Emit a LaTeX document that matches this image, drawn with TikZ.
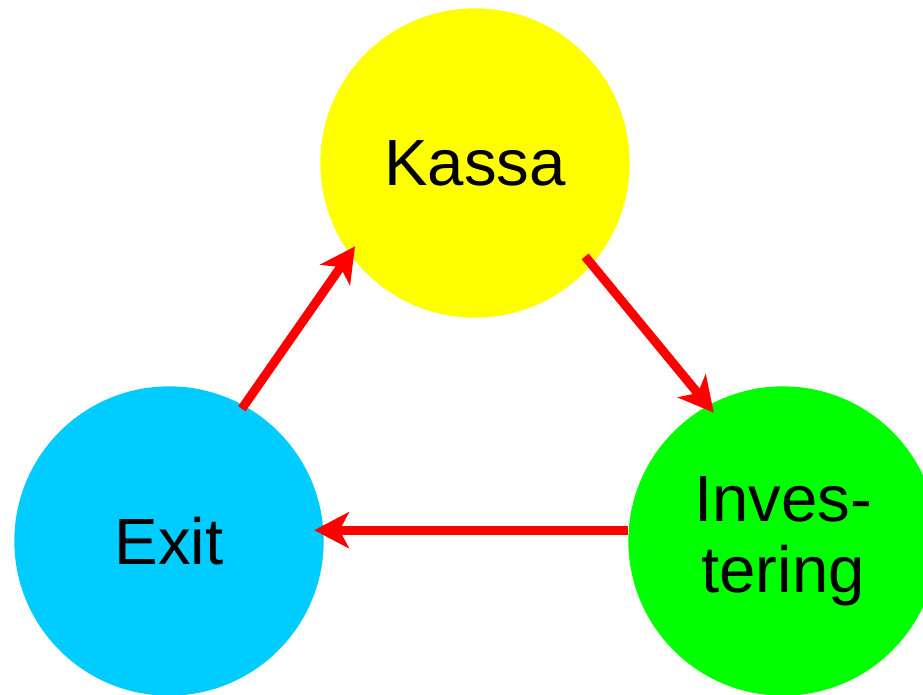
\documentclass[tikz,border=0pt]{standalone}
\usepackage{fontspec}
\setmainfont{Liberation Sans}
\usepackage{xcolor}
\usetikzlibrary{arrows.meta}

\definecolor{kassagul}{RGB}{255,255,0}
\definecolor{exitblå}{RGB}{0,204,255}
\definecolor{invgrön}{RGB}{0,255,0}
\definecolor{pilröd}{RGB}{255,0,0}

\begin{document}
\begin{tikzpicture}[
    x=0.75pt, y=-0.75pt,
    phase/.style={
        circle,
        draw=none,
        align=center,
        minimum size=232pt,
        inner sep=0pt,
        font=\fontsize{49}{53}\selectfont
    },
    arrow/.style={
        -{Stealth[length=26pt, width=27pt, inset=7pt]},
        line width=6.75pt,
        draw=pilröd,
        shorten >=-7pt
    }
]
\useasboundingbox (0,0) rectangle (923,694);

% ===== Phases =====
\node[phase, fill=kassagul] (kassa) at (475,163) {Kassa};
\node[phase, fill=exitblå] (exit) at (169,541) {Exit};
\node[phase, fill=invgrön] (inv) at (783,541) {Inves-\\tering};

% ===== Arrows =====
\draw[arrow, shorten <=-3pt] (exit.61) -- (kassa.216);
\draw[arrow, shorten <=-8pt] (kassa.-41) -- (inv.119);
\draw[arrow] (inv.176) -- (exit.4);

\end{tikzpicture}
\end{document}
